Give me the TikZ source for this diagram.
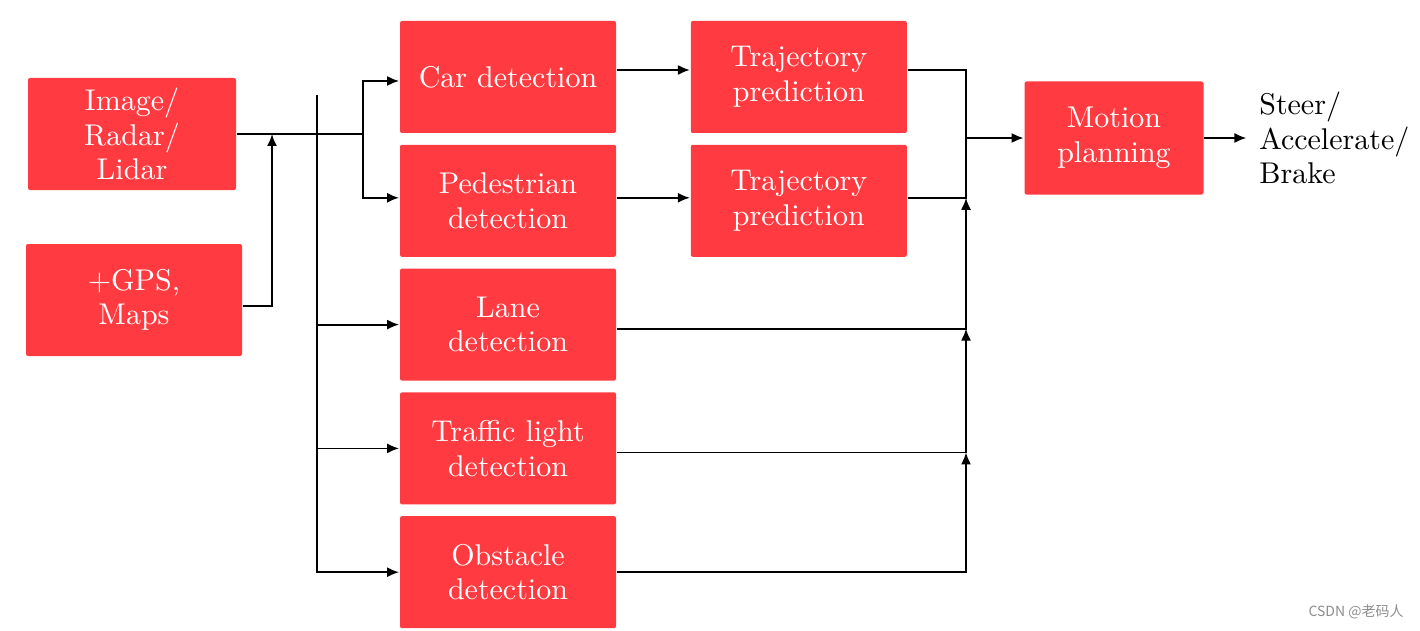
\documentclass[tikz,border=0pt]{standalone}
\usepackage{fontspec}
\usepackage{tikz}
\usetikzlibrary{arrows.meta,positioning}
\newfontfamily\cjk{Noto Sans CJK SC}
\newfontfamily\blockfont{lmroman10-regular.otf}
\definecolor{blockred}{RGB}{255,58,64}

\begin{document}
\begin{tikzpicture}[
    x = 1pt, y = -1pt, % pixel units, y downwards
    > = {Latex[length=12pt,width=10pt]}, % arrow head style
    node distance = 10pt, % gap between stacked blocks
    line width = 1.8pt % line style
    ]

    \tikzset{block/.style={
    fill = blockred,
    text = white,
    rounded corners = 2pt,
    minimum width = 216pt,
    minimum height = 112pt,
    inner sep = 0pt,
    align = center,
    font = \blockfont\fontsize{30}{34.5}\selectfont
    }}
    \useasboundingbox (0,0) rectangle (1420,631);

    \node[block, minimum width=208pt] (img) at (132,134) {Image/\\Radar/\\Lidar};
    \node[block] (gps) at (134,300) {+GPS,\\Maps};
    \node[block] (car) at (508,77) {Car detection};
    \node[block] (ped) [below=of car] {Pedestrian\\detection};
    \node[block] (lane) [below=of ped] {Lane\\detection};
    \node[block] (tl) [below=of lane] {Traffic light\\detection};
    \node[block] (obs) [below=of tl] {Obstacle\\detection};
    \node[block] (traj1) [right=73pt of car] {Trajectory\\prediction};
    \node[block] (traj2) [right=73pt of ped] {Trajectory\\prediction};
    \node[block, minimum width=179pt, minimum height=113pt] (motion) at (1114,138) {Motion\\planning};
    \node[align=left, inner xsep=12pt, inner ysep=0pt, font=\blockfont\fontsize{30}{34.5}\selectfont] (out) [right=42pt of motion] {Steer/\\Accelerate/\\Brake};
    \node[text=black!45, font=\cjk\fontsize{14}{14}\selectfont] (mark) at (1356,612) {CSDN @老码人};

    \coordinate (split) at (363,134);
    \coordinate (gpsin) at (272,134);
    \coordinate (bus) at (317,95);
    \coordinate (merge) at (966,138);

    % sensors
    \draw (img.east) -- (split);
    \draw[->] (split) |- ([yshift=-4pt]car.west);
    \draw[->] (split) |- ([yshift=3pt]ped.west);
    \draw[->] ([yshift=-6pt]gps.east) -| (gpsin);
    \draw[->] (bus) |- (obs.west);
    \draw[->] (bus |- lane.west) -- (lane.west);
    \draw[->] (bus |- tl.west) -- (tl.west);

    % prediction
    \draw[->] ([yshift=7pt]car.east) -- ([yshift=7pt]traj1.west);
    \draw[->] ([yshift=3pt]ped.east) -- ([yshift=3pt]traj2.west);

    % planning
    \draw ([yshift=7pt]traj1.east) -| (merge);
    \draw ([yshift=3pt]traj2.east) -| (merge);
    \draw[->] (merge) -- (motion.west);
    \draw[->] ([yshift=-4pt]lane.east) -| ([yshift=3pt]merge |- traj2.east);
    \draw[->] ([yshift=-4pt]tl.east) -| ([yshift=-4pt]merge |- lane.east);
    \draw[->] (obs.east) -| ([yshift=-4pt]merge |- tl.east);
    \draw[->] (motion.east) -- (out.west);
\end{tikzpicture}
\end{document}
